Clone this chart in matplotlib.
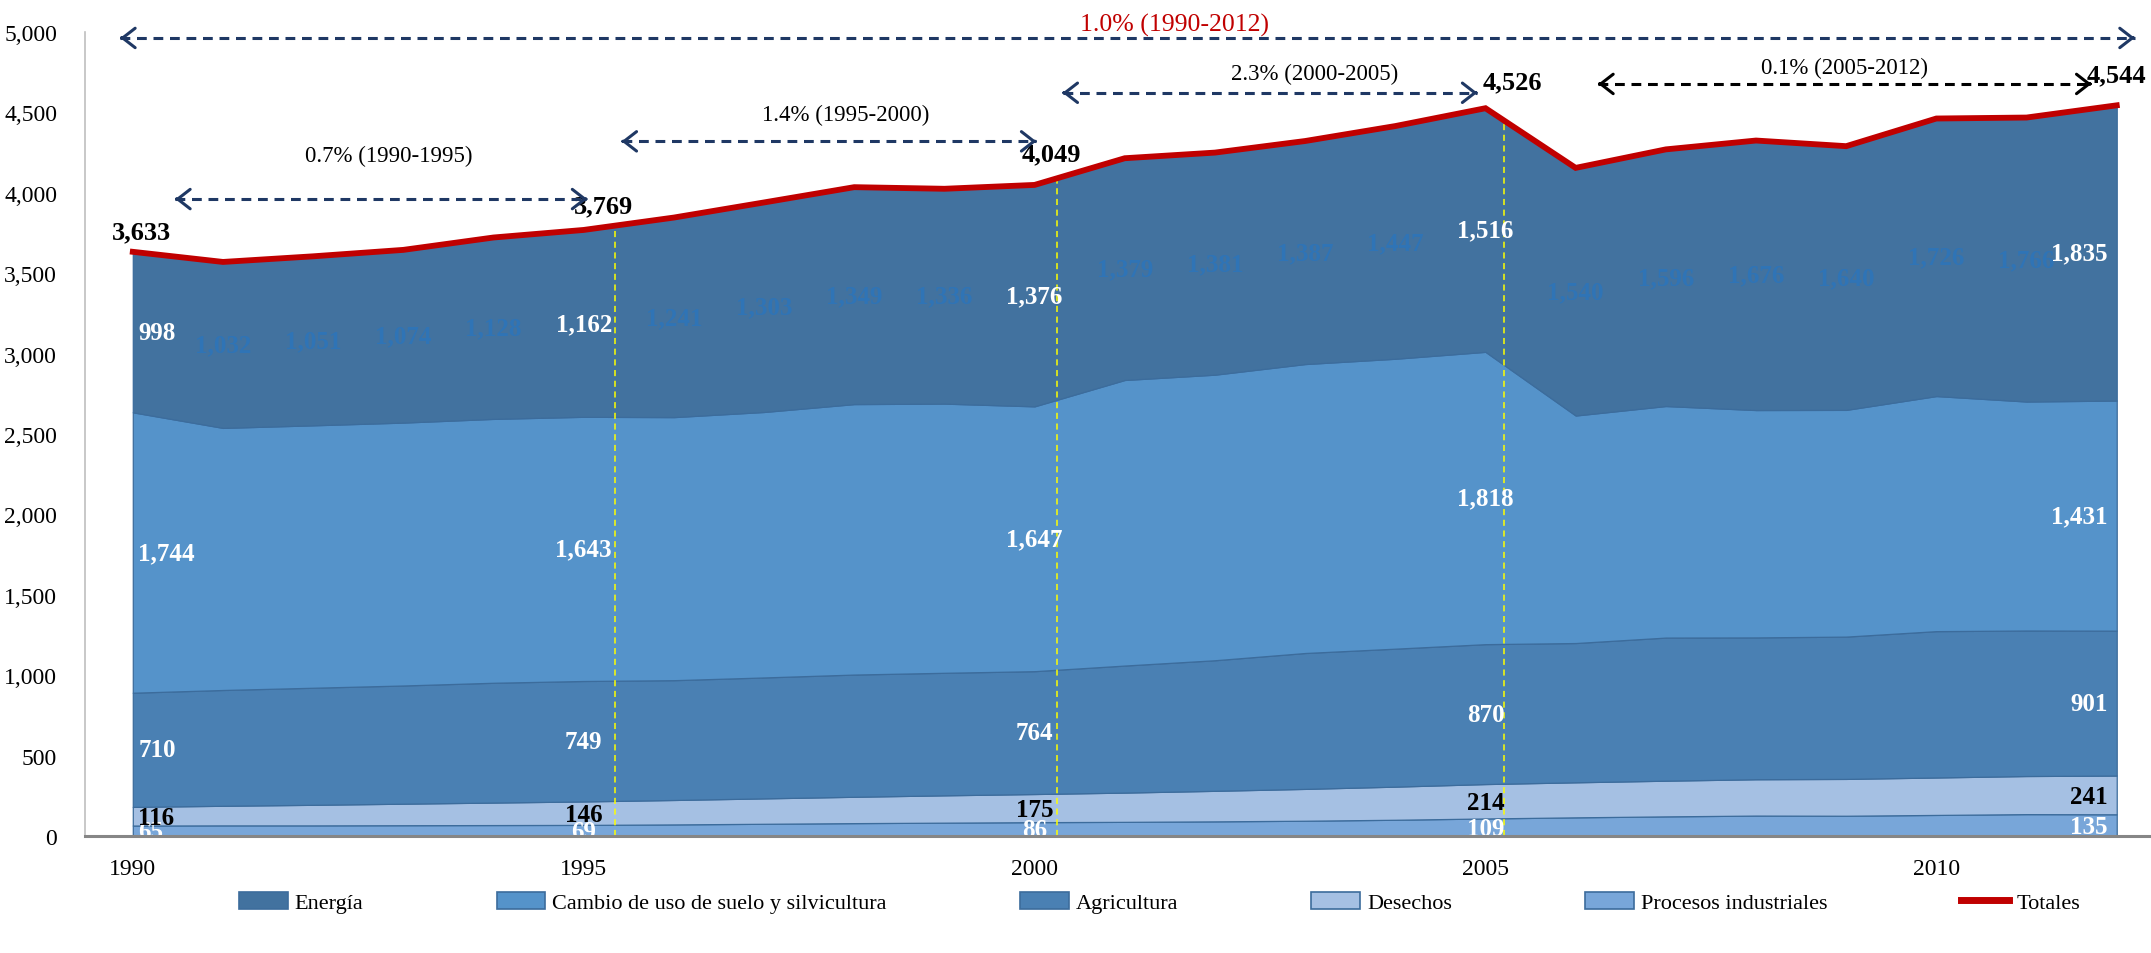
import numpy as np
import matplotlib.pyplot as plt
from matplotlib.patches import Patch
from matplotlib.lines import Line2D
from matplotlib.ticker import FuncFormatter

plt.rcParams['font.family'] = ['Liberation Serif', 'DejaVu Serif']

# -----------------------------------------------------------------------------
# datos (Gg CO2e)

anios = list(range(1990, 2013))
procesos = [65, 66, 66, 67, 68, 69, 72, 76, 80, 83, 86, 88, 91, 95, 101, 109,
            116, 122, 127, 126, 131, 136, 135]
desechos = [116, 122, 128, 134, 140, 146, 152, 158, 164, 170, 175, 182, 190,
            198, 206, 214, 218, 222, 226, 229, 233, 237, 241]
agricultura = [710, 720, 728, 735, 745, 749, 745, 752, 760, 762, 764, 790,
               812, 845, 858, 870, 866, 890, 882, 885, 910, 905, 901]
cambio_uso = [1744, 1630, 1632, 1635, 1641, 1643, 1636, 1651, 1682, 1674,
              1647, 1776, 1776, 1797, 1803, 1818, 1415, 1440, 1414, 1410,
              1462, 1424, 1431]
energia = [998, 1032, 1051, 1074, 1128, 1162, 1241, 1303, 1349, 1336, 1376,
           1379, 1381, 1387, 1447, 1516, 1540, 1596, 1676, 1640, 1726, 1766,
           1835]
totales = [3633, 3570, 3605, 3645, 3722, 3769, 3846, 3940, 4035, 4025, 4049,
           4215, 4250, 4322, 4415, 4526, 4155, 4270, 4325, 4290, 4462, 4468,
           4544]

series = ['Energía', 'Cambio de uso de suelo y silvicultura', 'Agricultura',
          'Desechos', 'Procesos industriales']
anios_etiqueta = [1990, 1995, 2000, 2005, 2012]

# tasas de crecimiento: (desde, hasta, texto)
tasas = [
    (1990, 2012, '1.0% (1990-2012)'),
    (1990, 1995, '0.7% (1990-1995)'),
    (1995, 2000, '1.4% (1995-2000)'),
    (2000, 2005, '2.3% (2000-2005)'),
    (2005, 2012, '0.1% (2005-2012)'),
]

# -----------------------------------------------------------------------------

colores = {
    'Energía': '#42729F',
    'Cambio de uso de suelo y silvicultura': '#5593CA',
    'Agricultura': '#4A80B3',
    'Desechos': '#A5C0E3',
    'Procesos industriales': '#78A6D9',
}
borde = '#3C6C9C'
rojo = '#C00000'
azul_osc = '#1F3864'

x = np.array(anios, dtype=float)
capas = [procesos, desechos, agricultura, cambio_uso, energia]
nombres = ['Procesos industriales', 'Desechos', 'Agricultura',
           'Cambio de uso de suelo y silvicultura', 'Energía']

fig = plt.figure(figsize=(21.51, 9.54), dpi=100)
ax = fig.add_axes([85 / 2151, 1 - 837 / 954, 1 - 85 / 2151, 804 / 954])

ax.stackplot(x, *capas, colors=[colores[n] for n in nombres],
             edgecolor=borde, linewidth=0.9)
ax.plot(x, totales, color=rojo, lw=4.2, solid_joinstyle='miter', zorder=5)

# etiquetas de cada capa
acum = np.zeros(len(x))
estilo = {
    'Procesos industriales': 'white',
    'Desechos': 'black',
    'Agricultura': 'white',
    'Cambio de uso de suelo y silvicultura': 'white',
    'Energía': 'white',
}
for vals, nom in zip(capas, nombres):
    vals = np.array(vals)
    medio = acum + vals / 2.0
    if nom == 'Procesos industriales':
        medio = acum + vals * 0.45
    elif nom == 'Desechos':
        medio = acum + vals * 0.45
    for i, a in enumerate(anios):
        if a in anios_etiqueta:
            col = estilo[nom]
        elif nom == 'Energía':
            col = '#2F74B6'
        else:
            continue
        xt, ha = a, 'center'
        if a == 1990:
            xt, ha = 1990.06, 'left'
        elif a == 2012:
            xt, ha = 2011.9, 'right'
        ax.text(xt, medio[i], f'{vals[i]:,}', color=col, fontsize=18,
                fontweight='bold', ha=ha, va='center', zorder=6)
    acum = acum + vals

# etiquetas de totales (desplazamiento en x en anios, en y en pixeles)
despl = [(0.1, 20), (0.22, 24), (0.19, 31), (0.3, 26), (0.0, 31)]
for a, (dx, dy) in zip(anios_etiqueta, despl):
    i = anios.index(a)
    ax.annotate(f'{totales[i]:,}', xy=(a + dx, totales[i]),
                xytext=(0, dy * 0.72), textcoords='offset points',
                ha='center', va='center', fontsize=19, fontweight='bold',
                color='black', zorder=7, annotation_clip=False)

# lineas amarillas verticales
for a in [1995.35, 2000.25, 2005.2]:
    tope = np.interp(a, x, totales)
    ax.plot([a, a], [0, tope], color='#FFFF00', lw=1.1, ls=(0, (4, 3)),
            zorder=4)


def flecha(x0, x1, y, color):
    ax.plot([x0, x1], [y, y], color=color, lw=2.2, ls=(0, (3.2, 2.2)),
            clip_on=False, zorder=8)
    for xa, xb in ((x0 + 0.02, x0), (x1 - 0.02, x1)):
        ax.annotate('', xy=(xb, y), xytext=(xa, y),
                    arrowprops=dict(arrowstyle='->,head_length=0.45,head_width=0.35',
                                    color=color, lw=2.2, shrinkA=0, shrinkB=0,
                                    mutation_scale=20),
                    annotation_clip=False, zorder=8)


pos_flechas = [(1989.86, 2012.2, 4963, 2001.55, 5045),
               (1990.47, 1995.04, 3961, 1992.84, 4232),
               (1995.42, 2000.02, 4320, 1997.9, 4488),
               (2000.31, 2004.91, 4622, 2003.1, 4740),
               (2006.25, 2011.72, 4677, 2008.98, 4782)]
for (a0, a1, txt), (x0, x1, y, xt, yt) in zip(tasas, pos_flechas):
    if a0 == 1990 and a1 == 2012:
        flecha(x0, x1, y, azul_osc)
        ax.text(xt, yt, txt, color=rojo, fontsize=18.5, ha='center',
                va='center', clip_on=False)
    elif a0 == 2005:
        flecha(x0, x1, y, 'black')
        ax.text(xt, yt, txt, color='black', fontsize=16.5, ha='center',
                va='center')
    else:
        flecha(x0, x1, y, azul_osc)
        ax.text(xt, yt, txt, color='black', fontsize=16.5, ha='center',
                va='center')

# ejes
ax.set_xlim(1989.47, 2012.38)
ax.set_ylim(0, 5000)
ax.set_yticks(np.arange(0, 5001, 500))
ax.yaxis.set_major_formatter(FuncFormatter(lambda v, p: f'{v:,.0f}'))
ax.set_xticks([1990, 1995, 2000, 2005, 2010])
ax.tick_params(axis='both', length=0, labelsize=17)
ax.tick_params(axis='x', pad=16)
ax.tick_params(axis='y', pad=20)
for s in ['top', 'right']:
    ax.spines[s].set_visible(False)
ax.spines['left'].set_color('#BFBFBF')
ax.spines['left'].set_linewidth(1.2)
ax.spines['bottom'].set_color('#868686')
ax.spines['bottom'].set_linewidth(2.2)
ax.spines['bottom'].set_zorder(9)

# leyenda
handles = [Patch(facecolor=colores[n], edgecolor=borde, lw=1.2) for n in series]
handles.append(Line2D([0], [0], color=rojo, lw=5))
fig.legend(handles, series + ['Totales'], loc='center',
           bbox_to_anchor=(0.539, 0.053), ncol=6, frameon=False, fontsize=16,
           handlelength=2.2, handleheight=0.8, handletextpad=0.3,
           columnspacing=6.0)

fig.savefig('out.png', dpi=100)
